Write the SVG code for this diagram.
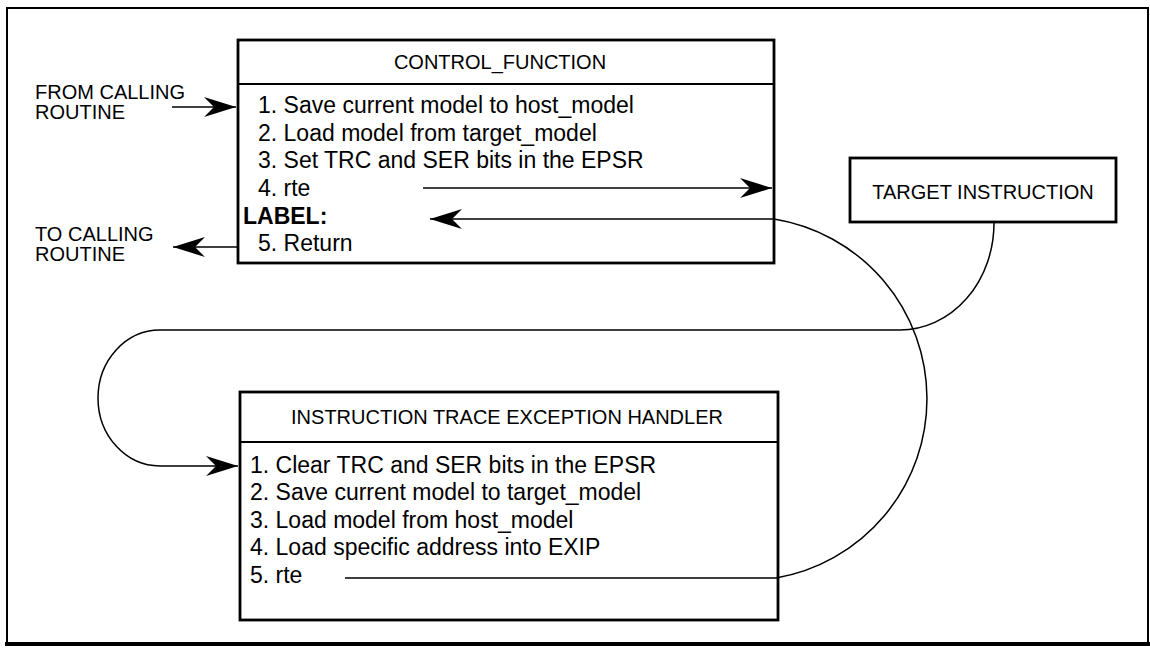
<svg xmlns="http://www.w3.org/2000/svg" width="1150" height="649" viewBox="0 0 1150 649">
<defs>
<marker id="ah" viewBox="-33 -11 34 22" refX="0" refY="0" markerWidth="34" markerHeight="22" markerUnits="userSpaceOnUse" orient="auto">
<path d="M0,0 L-32,-10 L-22,0 L-32,10 Z" fill="#000"/>
</marker>
<style>
text{font-family:"Liberation Sans",Arial,Helvetica,sans-serif;fill:#000}
.body{font-size:23px}
.title{font-size:20px;text-anchor:middle}
.side{font-size:20px}
.bold{font-weight:bold}
.box{fill:#fff;stroke:#000;stroke-width:2.8}
.div{stroke:#000;stroke-width:2}
.conn{fill:none;stroke:#000;stroke-width:1.5}
</style>
</defs>
<rect x="0" y="0" width="1150" height="649" fill="#fff"/>
<g id="frame">
<path d="M7,644 L7,8 L1148,8 L1148,644" fill="none" stroke="#000" stroke-width="2"/>
<line x1="5" y1="644" x2="1150" y2="644" stroke="#000" stroke-width="4"/>
</g>
<g id="control_function">
<rect class="box" x="238" y="40" width="536" height="223"/>
<line class="div" x1="238" y1="84" x2="774" y2="84"/>
<text class="title" x="500" y="69">CONTROL_FUNCTION</text>
<text class="body" x="258" y="113">1. Save current model to host_model</text>
<text class="body" x="258" y="141">2. Load model from target_model</text>
<text class="body" x="258" y="168">3. Set TRC and SER bits in the EPSR</text>
<text class="body" x="258" y="196">4. rte</text>
<text class="body bold" x="243" y="224">LABEL:</text>
<text class="body" x="258" y="251">5. Return</text>
</g>
<g id="target_instruction">
<rect class="box" x="850" y="158" width="266" height="64"/>
<text class="title" x="983" y="199">TARGET INSTRUCTION</text>
</g>
<g id="trace_handler">
<rect class="box" x="240" y="392" width="538" height="228"/>
<line class="div" x1="240" y1="442" x2="778" y2="442"/>
<text class="title" x="507" y="424">INSTRUCTION TRACE EXCEPTION HANDLER</text>
<text class="body" x="250" y="473">1. Clear TRC and SER bits in the EPSR</text>
<text class="body" x="250" y="500">2. Save current model to target_model</text>
<text class="body" x="250" y="528">3. Load model from host_model</text>
<text class="body" x="250" y="555">4. Load specific address into EXIP</text>
<text class="body" x="250" y="583">5. rte</text>
</g>
<g id="from_calling">
<text class="side" x="35" y="99">FROM CALLING</text>
<text class="side" x="35" y="119">ROUTINE</text>
</g>
<g id="to_calling">
<text class="side" x="35" y="241">TO CALLING</text>
<text class="side" x="35" y="261">ROUTINE</text>
</g>
<g id="connectors">
<line class="conn" x1="172" y1="107" x2="236" y2="107" marker-end="url(#ah)"/>
<line class="conn" x1="238" y1="247" x2="173" y2="247" marker-end="url(#ah)"/>
<line class="conn" x1="423" y1="188" x2="772" y2="188" marker-end="url(#ah)"/>
<path class="conn" d="M345,578 L776,578 A182,182 0 0 0 774,219 L430,219" marker-end="url(#ah)"/>
<path class="conn" d="M994,222 A94,107 0 0 1 900,330 L160,330 A62,68 0 0 0 160,466 L238,466" marker-end="url(#ah)"/>
</g>
</svg>
